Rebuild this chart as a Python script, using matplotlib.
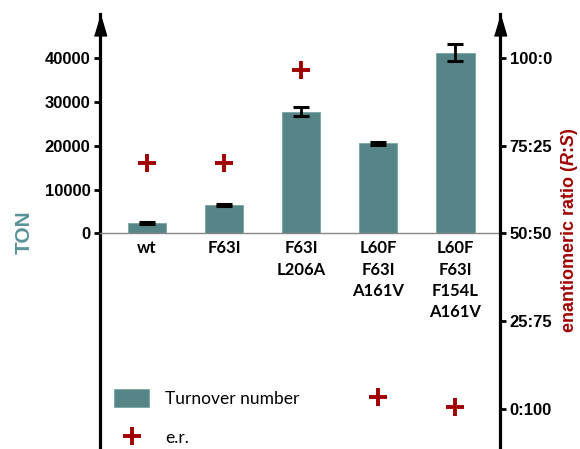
import matplotlib
matplotlib.use("Agg")
import matplotlib.pyplot as plt
from matplotlib.patches import Patch
from matplotlib.lines import Line2D

# data
variants = ['wt', 'F63I', 'F63I\nL206A', 'L60F\nF63I\nA161V', 'L60F\nF63I\nF154L\nA161V']
ton = [2400, 6400, 27700, 20500, 41200]
ton_err = [200, 200, 1000, 400, 1900]
er = [70.0, 70.0, 96.6, 3.5, 0.7]
er_ticks = [0, 25, 50, 75, 100]
er_labels = ['0:100', '25:75', '50:50', '75:25', '100:0']

teal = '#568587'
darkred = '#A00000'

plt.rcParams['mathtext.fontset'] = 'custom'
plt.rcParams['mathtext.it'] = 'Liberation Sans:italic:bold'
plt.rcParams['mathtext.rm'] = 'Liberation Sans'

fig = plt.figure(figsize=(5.8, 4.49), dpi=100)
ax = fig.add_axes([100 / 580, 0, 400 / 580, 1 - 14 / 449])
ax2 = ax.twinx()

x = list(range(len(variants)))
ax.bar(x, ton, width=0.5, color=teal, edgecolor='#7aa5a6', linewidth=0.6, zorder=2)
ax.errorbar(x, ton, yerr=ton_err, fmt='none', ecolor='black', elinewidth=2,
            capsize=6, capthick=2.2, zorder=3)

ax2.plot(x, er, linestyle='none', marker='+', markersize=13, markeredgewidth=2.8,
         color=darkred, zorder=4)

# axis scales: 40000 TON lines up with 100:0, 0 TON with 50:50
r_lo, r_hi = -11.4, 112.5
ax2.set_ylim(r_lo, r_hi)
ax.set_ylim((r_lo - 50) * 800, (r_hi - 50) * 800)
ax.set_xlim(-0.61, 4.58)

ax.set_yticks([0, 10000, 20000, 30000, 40000])
ax2.set_yticks(er_ticks)
ax2.set_yticklabels(er_labels)

for a in (ax, ax2):
    a.spines['top'].set_visible(False)
    a.patch.set_visible(False)
ax.spines['right'].set_visible(False)
ax2.spines['left'].set_visible(False)
ax2.spines['bottom'].set_visible(False)
ax.spines['left'].set_linewidth(2.3)
ax2.spines['right'].set_linewidth(2.3)

ax.spines['bottom'].set_position(('data', 0))
ax.spines['bottom'].set_color('#888888')
ax.spines['bottom'].set_linewidth(1)

ax.set_xticks(x)
ax.set_xticklabels(variants, fontfamily='Lato', fontweight='bold', fontsize=12,
                   linespacing=1.4)
ax.tick_params(axis='x', length=0, pad=5)
ax.tick_params(axis='y', length=4, width=2, pad=3, labelsize=12)
ax2.tick_params(axis='y', length=4, width=2, pad=3, labelsize=12)
for lab in ax.get_yticklabels() + ax2.get_yticklabels():
    lab.set_fontfamily('Liberation Sans')
    lab.set_fontweight('bold')

# arrow heads at the top of both axes
arrow = [(-1, -1.7), (1, -1.7), (0, 1.7)]
for xa in (0, 1):
    ax.plot([xa], [0.975], marker=arrow, markersize=15, color='black',
            transform=ax.transAxes, clip_on=False, zorder=5)

fig.text(24 / 580, 1 - 232 / 449, 'TON', rotation=90, ha='center', va='center',
         fontsize=15, fontweight='bold', color='#5a9496', fontfamily='Liberation Sans')
fig.text(569 / 580, 1 - 230 / 449, 'enantiomeric ratio ($\\mathit{R}$:$\\mathit{S}$)',
         rotation=90, ha='center', va='center', fontsize=13, color=darkred,
         fontweight='bold', fontfamily='Liberation Sans')

handles = [Patch(facecolor=teal, edgecolor='#7aa5a6', linewidth=0.6),
           Line2D([], [], linestyle='none', marker='+', markersize=13,
                  markeredgewidth=2.8, color=darkred)]
leg = ax.legend(handles, ['Turnover number', 'e.r.'], loc='lower left',
                bbox_to_anchor=(-0.003, -0.03), frameon=False,
                prop={'family': 'Lato', 'size': 12.5}, handlelength=2.0,
                handleheight=1.2, handletextpad=0.9, labelspacing=1.25)

fig.savefig('out.png', dpi=100)
